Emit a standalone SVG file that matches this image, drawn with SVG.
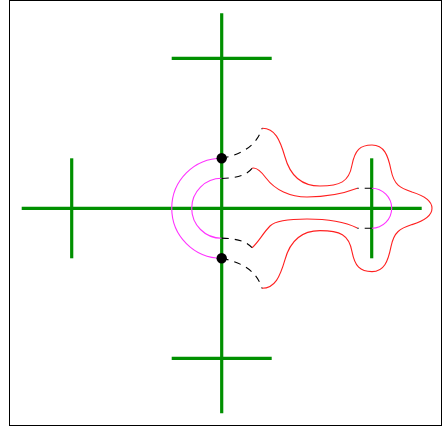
<svg xmlns="http://www.w3.org/2000/svg" width="443" height="427" viewBox="0 0 443 427">
<style>
.g{stroke:#009000;stroke-width:3.2;fill:none;stroke-linecap:butt}
.m{stroke:#ff33ff;stroke-width:1.1;fill:none}
.r{stroke:#ff2020;stroke-width:1.1;fill:none}
.d{stroke:#000;stroke-width:1.1;fill:none;stroke-dasharray:7,6}
</style>
<rect x="9.5" y="0.5" width="432" height="425" fill="#fff" stroke="#000" stroke-width="1"/>
<g id="axes">
<line class="g" x1="221.7" y1="13.3" x2="221.7" y2="413.3"/>
<line class="g" x1="21.7" y1="208.3" x2="421.7" y2="208.3"/>
<line class="g" x1="171.7" y1="58.3" x2="271.7" y2="58.3"/>
<line class="g" x1="171.7" y1="358.3" x2="271.7" y2="358.3"/>
<line class="g" x1="71.7" y1="158.3" x2="71.7" y2="258.3"/>
<line class="g" x1="371.7" y1="158.3" x2="371.7" y2="258.3"/>
</g>
<g id="arcs">
<path class="m" d="M221.7,158.3 A50,50 0 0 0 221.7,258.3"/>
<path class="m" d="M221.7,178.3 A30,30 0 0 0 221.7,238.3"/>
<path class="m" d="M371.7,188.3 A20,20 0 0 1 371.7,228.3"/>
</g>
<g id="curves">
<path class="r" d="M262,128.3 C275,128 280,140 285,157 C290,175 300,186 320,186 C340,186 349,182 352,165 C355,150 360,145 372,145 C384,145 388,155 391,170 C394,185 400,188 412,192 C425,196 432,201 432,208.3 C432,215.6 425,220.6 412,224.6 C400,228.6 394,231.6 391,246.6 C388,261.6 384,271.6 372,271.6 C360,271.6 355,266.6 352,251.6 C349,234.6 340,230.6 320,230.6 C300,230.6 290,241.6 285,259.6 C280,276.6 275,288.3 262,288.3"/>
<path class="r" d="M252,168.3 C256,167 260,170 266,178 C275,190 290,197 307,197 C330,197 345,193 357.3,188.3"/>
<path class="r" d="M252,247.7 C258,243 263,233 270,226 C276,220 290,219 307,219 C330,219 345,222 357.3,228"/>
</g>
<g id="connectors">
<path class="d" d="M221.7,158.3 C238,155 256,148 262,128.3"/>
<path class="d" d="M221.7,178.5 C235,178 246,176 252,168.3"/>
<path class="d" d="M221.7,238.1 C235,238.6 246,240.6 252,247.7"/>
<path class="d" d="M221.7,258.3 C238,261.6 256,268.6 262,288.3"/>
<path class="d" d="M371.7,188.3 L357.3,188.3"/>
<path class="d" d="M371.7,228.3 L357.3,228.3"/>
</g>
<g id="dots">
<circle cx="221.7" cy="158.3" r="5.2" fill="#000"/>
<circle cx="221.7" cy="258.3" r="5.2" fill="#000"/>
</g>
</svg>
